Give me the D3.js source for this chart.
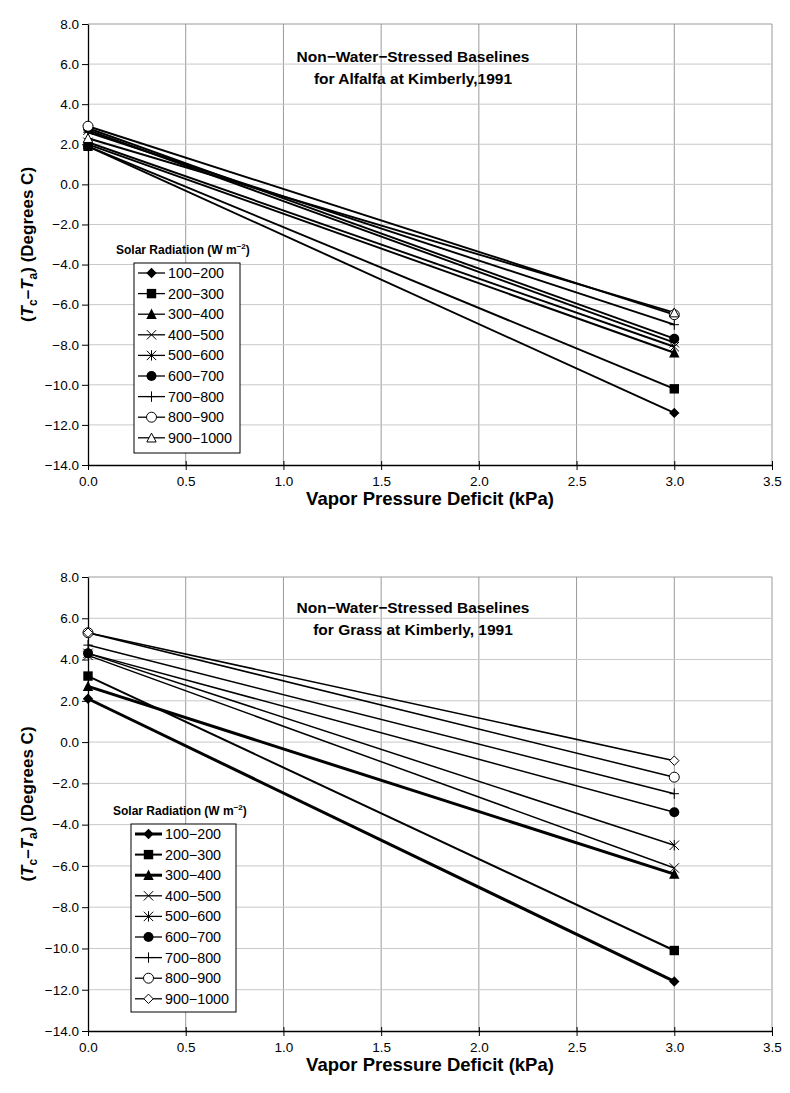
<!DOCTYPE html>
<html><head><meta charset="utf-8">
<script src="https://cdn.jsdelivr.net/npm/d3@7"></script>
<style>
body{margin:0;background:#fff;}
svg text{font-family:"Liberation Sans",Arial,sans-serif;}
</style></head>
<body>
<svg id="c" width="790" height="1093"></svg>
<script>
// ---------- data ----------
const seriesNames = ["100−200","200−300","300−400","400−500","500−600","600−700","700−800","800−900","900−1000"];
const vpdPoints = [0, 3];
// Alfalfa (top chart): [value at VPD 0, value at VPD 3]
const alfalfa100 = [1.9, -11.4];
const alfalfa200 = [1.9, -10.2];
const alfalfa300 = [2.0, -8.4];
const alfalfa400 = [2.1, -8.1];
const alfalfa500 = [2.7, -7.9];
const alfalfa600 = [2.8, -7.7];
const alfalfa700 = [2.6, -7.0];
const alfalfa800 = [2.9, -6.5];
const alfalfa900 = [2.3, -6.4];
// Grass (bottom chart)
const grass100 = [2.1, -11.6];
const grass200 = [3.2, -10.1];
const grass300 = [2.7, -6.4];
const grass400 = [4.2, -6.1];
const grass500 = [4.3, -5.0];
const grass600 = [4.3, -3.4];
const grass700 = [4.7, -2.5];
const grass800 = [5.3, -1.7];
const grass900 = [5.3, -0.9];

const xTicks = [0, 0.5, 1.0, 1.5, 2.0, 2.5, 3.0, 3.5];
const yTicks = [8, 6, 4, 2, 0, -2, -4, -6, -8, -10, -12, -14];

const topMarkers = ["diamond","square","triangle","x","asterisk","circle","plus","ocircle","otriangle"];
const botMarkers = ["diamond","square","triangle","x","asterisk","circle","plus","ocircle","odiamond"];

// ---------- drawing ----------
const svg = d3.select("#c");
const fmt = v => (v < 0 ? "−" : "") + Math.abs(v).toFixed(1);

function marker(g, type, cx, cy) {
  const s = 4.7;
  const m = g.append("g").attr("transform", `translate(${cx},${cy})`);
  switch (type) {
    case "diamond": m.append("path").attr("d", `M0,${-s-0.5}L${s+0.5},0L0,${s+0.5}L${-s-0.5},0Z`).attr("fill","#000"); break;
    case "odiamond": m.append("path").attr("d", `M0,${-s}L${s},0L0,${s}L${-s},0Z`).attr("fill","#fff").attr("stroke","#000").attr("stroke-width",1); break;
    case "square": m.append("rect").attr("x",-s).attr("y",-s).attr("width",2*s).attr("height",2*s).attr("fill","#000"); break;
    case "triangle": m.append("path").attr("d", `M0,${-s-1}L${s+0.5},${s}L${-s-0.5},${s}Z`).attr("fill","#000"); break;
    case "otriangle": m.append("path").attr("d", `M0,${-s}L${s},${s-0.5}L${-s},${s-0.5}Z`).attr("fill","#fff").attr("stroke","#000").attr("stroke-width",1); break;
    case "circle": m.append("circle").attr("r", s+0.3).attr("fill","#000"); break;
    case "ocircle": m.append("circle").attr("r", s+0.3).attr("fill","#fff").attr("stroke","#000").attr("stroke-width",1); break;
    case "x": m.append("path").attr("d", `M${-s},${-s}L${s},${s}M${-s},${s}L${s},${-s}`).attr("stroke","#000").attr("stroke-width",1); break;
    case "asterisk": m.append("path").attr("d", `M${-s},${-s}L${s},${s}M${-s},${s}L${s},${-s}M0,${-s-0.5}L0,${s+0.5}`).attr("stroke","#000").attr("stroke-width",1); break;
    case "plus": m.append("path").attr("d", `M0,${-s-0.5}L0,${s+0.5}M${-s},0L${s},0`).attr("stroke","#000").attr("stroke-width",1); break;
  }
}

function drawChart(cfg) {
  const x = d3.scaleLinear().domain([0, 3.5]).range([cfg.x0, cfg.x1]);
  const y = d3.scaleLinear().domain([-14, 8]).range([cfg.yb, cfg.yt]);
  const g = svg.append("g");

  // grid
  g.append("g").selectAll("line.v").data(xTicks.slice(1)).join("line")
    .attr("x1", d => x(d)).attr("x2", d => x(d)).attr("y1", cfg.yt).attr("y2", cfg.yb)
    .attr("stroke", "#9a9a9a").attr("stroke-width", 1);
  g.append("g").selectAll("line.h").data(yTicks.slice(0, -1)).join("line")
    .attr("x1", cfg.x0).attr("x2", cfg.x1).attr("y1", d => y(d)).attr("y2", d => y(d))
    .attr("stroke", d => d === 8 ? "#9a9a9a" : "#c8c8c8").attr("stroke-width", 1);

  // axes
  const xa = g.append("g").attr("transform", `translate(0,${cfg.yb})`)
    .call(d3.axisBottom(x).tickValues(xTicks).tickFormat(d => d.toFixed(1)).tickSizeInner(5).tickSizeOuter(0).tickPadding(6));
  xa.selectAll(".tick line").attr("y1", -4);
  const ya = g.append("g").attr("transform", `translate(${cfg.x0},0)`)
    .call(d3.axisLeft(y).tickValues(yTicks).tickFormat(fmt).tickSizeInner(6).tickSizeOuter(0).tickPadding(3));
  [xa, ya].forEach(a => {
    a.select(".domain").attr("stroke", "#000").attr("stroke-width", 1.3);
    a.selectAll(".tick line").attr("stroke", "#000");
    a.selectAll("text").attr("font-size", 13.5).attr("fill", "#000").attr("font-family", "Liberation Sans, Arial, sans-serif");
  });

  // series lines
  cfg.series.forEach((vals, i) => {
    const pts = vpdPoints.map((v, j) => [x(v), y(vals[j])]);
    g.append("path").attr("d", d3.line()(pts)).attr("fill", "none")
      .attr("stroke", "#000").attr("stroke-width", cfg.widths[i]);
  });
  cfg.series.forEach((vals, i) => {
    vpdPoints.forEach((v, j) => marker(g, cfg.markers[i], x(v), y(vals[j])));
  });

  // title
  const t = g.append("text").attr("text-anchor", "middle").attr("font-weight", "bold").attr("font-size", 15.5);
  t.append("tspan").attr("x", cfg.titleX).attr("y", cfg.titleY).text("Non−Water−Stressed Baselines");
  t.append("tspan").attr("x", cfg.titleX).attr("y", cfg.titleY + 22).text(cfg.title2);

  // x-axis title
  g.append("text").attr("x", (cfg.x0 + cfg.x1) / 2).attr("y", cfg.yb + 40)
    .attr("text-anchor", "middle").attr("font-weight", "bold").attr("font-size", 18.5)
    .text("Vapor Pressure Deficit (kPa)");

  // y-axis title
  const yt = g.append("text").attr("transform", `translate(33,${(cfg.yt + cfg.yb) / 2}) rotate(-90)`)
    .attr("text-anchor", "middle").attr("font-weight", "bold").attr("font-size", 17);
  yt.append("tspan").text("(");
  yt.append("tspan").attr("font-style", "italic").text("T");
  yt.append("tspan").attr("font-size", 12).attr("dy", 4).text("c");
  yt.append("tspan").attr("dy", -4).text("–");
  yt.append("tspan").attr("font-style", "italic").text("T");
  yt.append("tspan").attr("font-size", 12).attr("dy", 4).text("a");
  yt.append("tspan").attr("dy", -4).text(") (Degrees C)");

  // legend
  const L = cfg.legend;
  const lt = g.append("text").attr("x", L.titleX).attr("y", L.titleY).attr("font-weight", "bold").attr("font-size", 12);
  lt.append("tspan").text("Solar Radiation (W m");
  lt.append("tspan").attr("font-size", 8).attr("dy", -5).text("−2");
  lt.append("tspan").attr("dy", 5).text(")");
  g.append("rect").attr("x", L.x).attr("y", L.y).attr("width", L.w).attr("height", L.h)
    .attr("fill", "#fff").attr("stroke", "#000").attr("stroke-width", 1);
  seriesNames.forEach((name, i) => {
    const cy = L.y + 10 + i * 20.6;
    g.append("line").attr("x1", L.x + 4).attr("x2", L.x + 31).attr("y1", cy).attr("y2", cy)
      .attr("stroke", "#000").attr("stroke-width", cfg.legendWidths[i]);
    marker(g, cfg.markers[i], L.x + 17.5, cy);
    g.append("text").attr("x", L.x + 34).attr("y", cy + 5).attr("font-size", 14.3).text(name);
  });
}

drawChart({
  x0: 88, x1: 772, yt: 24, yb: 465,
  series: [alfalfa100, alfalfa200, alfalfa300, alfalfa400, alfalfa500, alfalfa600, alfalfa700, alfalfa800, alfalfa900],
  markers: topMarkers,
  widths: Array(9).fill(1.9),
  legendWidths: Array(9).fill(1.3),
  title2: "for Alfalfa at Kimberly,1991",
  titleX: 413, titleY: 62,
  legend: { titleX: 116, titleY: 254, x: 134, y: 263, w: 106, h: 190 }
});

drawChart({
  x0: 88, x1: 772, yt: 577, yb: 1031,
  series: [grass100, grass200, grass300, grass400, grass500, grass600, grass700, grass800, grass900],
  markers: botMarkers,
  widths: [3, 2, 3, 1.5, 1.5, 1.5, 1.5, 1.5, 1.5],
  legendWidths: [3, 2, 3, 1.3, 1.3, 1.3, 1.3, 1.3, 1.3],
  title2: "for Grass at Kimberly, 1991",
  titleX: 413, titleY: 613,
  legend: { titleX: 113, titleY: 815, x: 131, y: 824, w: 105, h: 188 }
});
</script>
</body></html>
